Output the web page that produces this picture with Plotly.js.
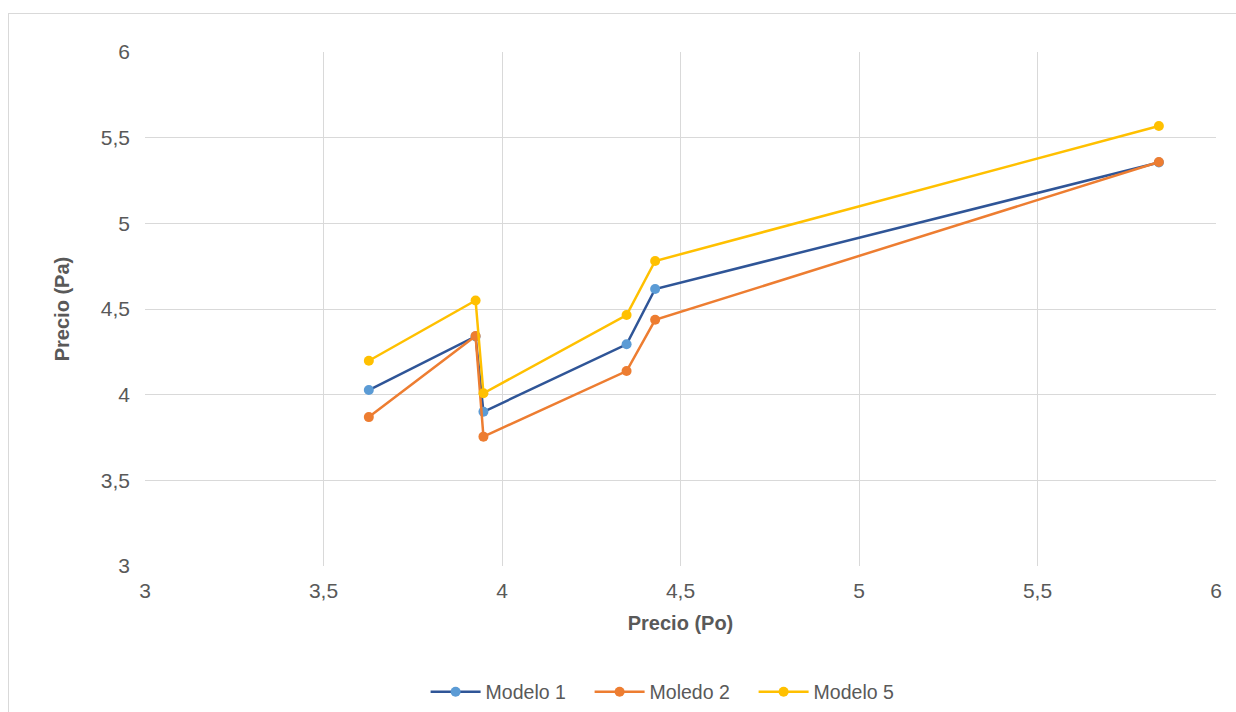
<!DOCTYPE html>
<html>
<head>
<meta charset="utf-8">
<script src="https://cdn.plot.ly/plotly-3.0.1.min.js"></script>
<style>
html,body{margin:0;padding:0;background:#fff;}
#wrap{position:relative;width:1236px;height:712px;overflow:hidden;}
#frame{position:absolute;left:8px;top:13px;width:1240px;height:720px;border:1px solid #D9D9D9;box-sizing:border-box;}
#chart{position:absolute;left:0;top:0;width:1236px;height:712px;}
</style>
</head>
<body>
<div id="wrap"><div id="frame"></div><div id="chart"></div></div>
<script>
const precioPo = [3.627, 3.926, 3.948, 4.349, 4.429, 5.840];
const modelo1 = [4.027, 4.340, 3.900, 4.294, 4.617, 5.355];
const moledo2 = [3.869, 4.342, 3.755, 4.138, 4.437, 5.358];
const modelo5 = [4.198, 4.550, 4.008, 4.465, 4.780, 5.568];
const seriesNames = ["Modelo 1", "Moledo 2", "Modelo 5"];
const xTickVals = [3, 3.5, 4, 4.5, 5, 5.5, 6];
const xTickText = ["3", "3,5", "4", "4,5", "5", "5,5", "6"];
const yTickVals = [3, 3.5, 4, 4.5, 5, 5.5, 6];
const yTickText = ["3", "3,5", "4", "4,5", "5", "5,5", "6"];

const fam = "Liberation Sans, Arial, sans-serif";
function tr(y, name, lineColor, markerColor){
  return {x: precioPo, y: y, name: name, type: "scatter", mode: "lines+markers",
    line: {color: lineColor, width: 2.5}, marker: {color: markerColor, size: 10}, cliponaxis: false};
}
const data = [
  tr(modelo1, seriesNames[0], "#2F5597", "#5B9BD5"),
  tr(moledo2, seriesNames[1], "#ED7D31", "#ED7D31"),
  tr(modelo5, seriesNames[2], "#FFC000", "#FFC000")
];
const layout = {
  width: 1236, height: 712,
  margin: {l: 145, r: 20, t: 52, b: 146, autoexpand: false},
  paper_bgcolor: "rgba(0,0,0,0)", plot_bgcolor: "#fff",
  font: {family: fam, color: "#595959", size: 20},
  showlegend: true,
  legend: {orientation: "h", x: 0.262, xanchor: "left", yref: "container", y: 0.028, yanchor: "middle",
    font: {family: fam, color: "#595959", size: 19.5}, traceorder: "normal", itemwidth: 50, entrywidth: 99},
  xaxis: {range: [3, 6], tickvals: xTickVals, ticktext: xTickText, showgrid: true, automargin: false,
    gridcolor: "#D9D9D9", gridwidth: 1, zeroline: false, showline: false, ticks: "",
    tickfont: {size: 21, color: "#595959"}, ticklabelstandoff: 10,
    title: {text: "<b>Precio (Po)</b>", font: {size: 20, color: "#595959"}, standoff: 14}},
  yaxis: {range: [3, 6], tickvals: yTickVals, ticktext: yTickText, showgrid: true, automargin: false,
    gridcolor: "#D9D9D9", gridwidth: 1, zeroline: false, showline: false, ticks: "",
    tickfont: {size: 21, color: "#595959"}, ticklabelstandoff: 14,
    title: {text: "<b>Precio (Pa)</b>", font: {size: 20, color: "#595959"}, standoff: 25}}
};
Plotly.newPlot("chart", data, layout, {displayModeBar: false, staticPlot: true});
</script>
</body>
</html>
